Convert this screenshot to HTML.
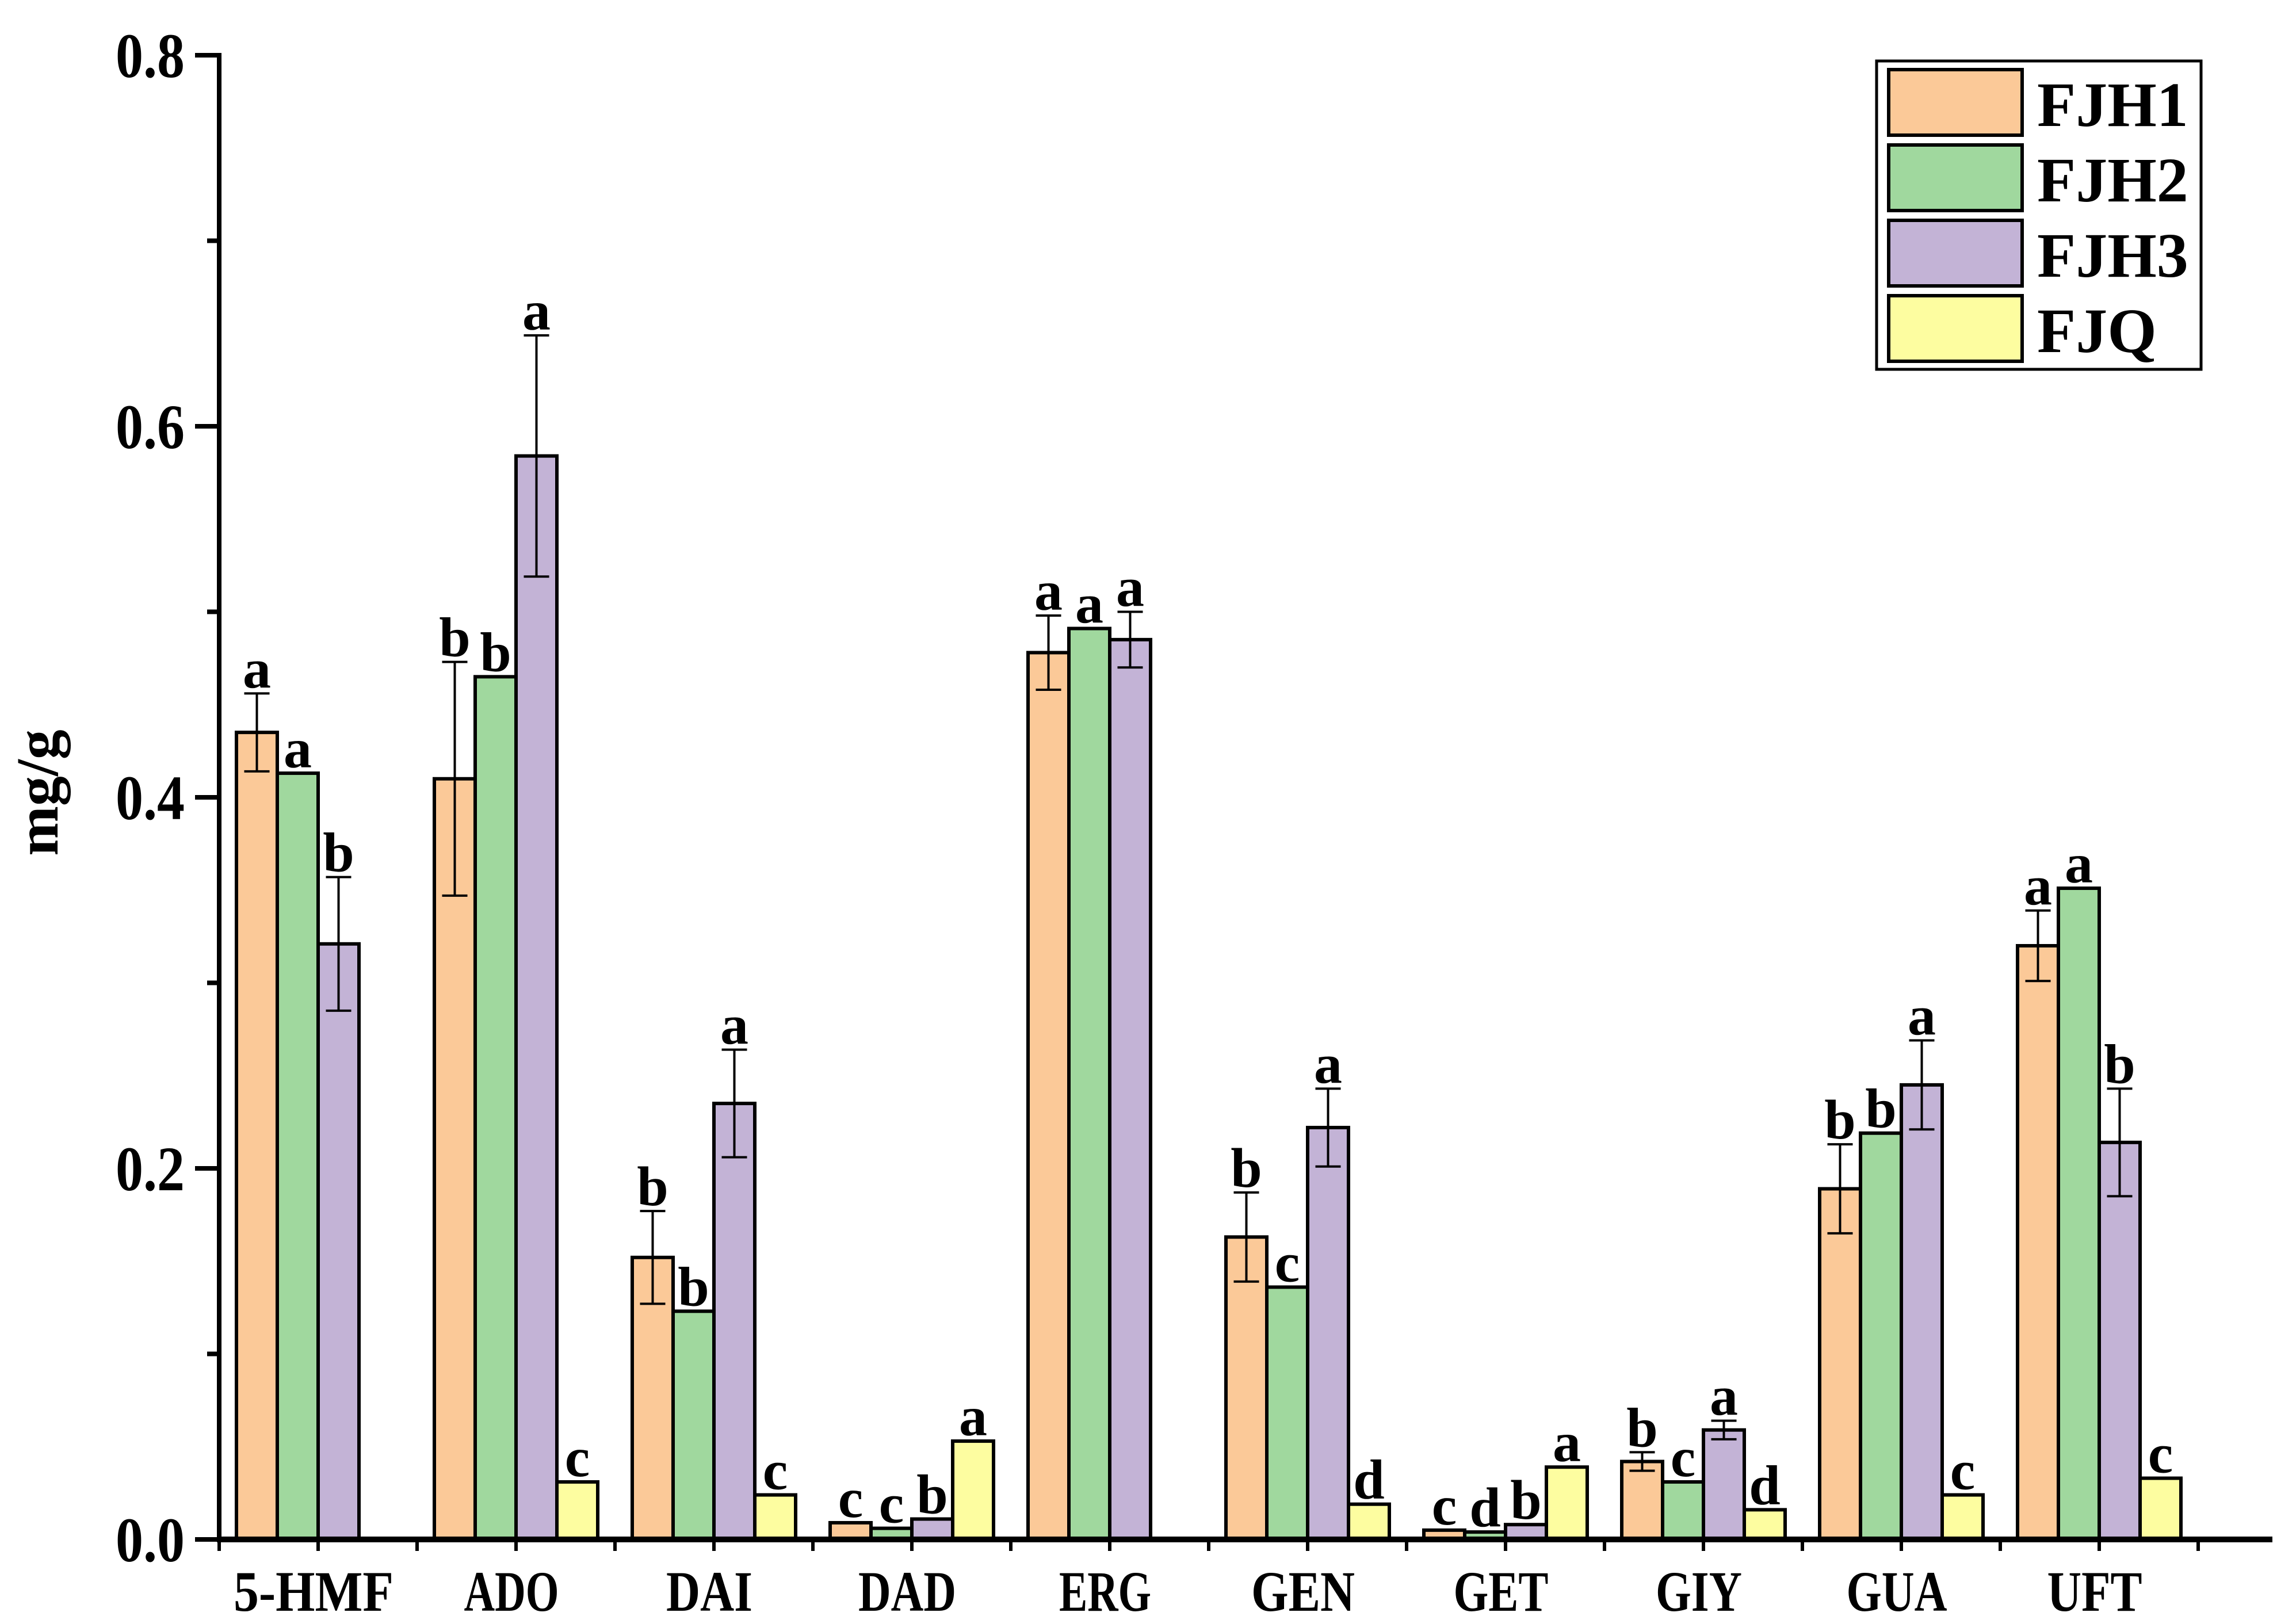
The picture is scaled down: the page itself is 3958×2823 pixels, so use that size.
<!DOCTYPE html>
<html><head><meta charset="utf-8"><style>
html,body{margin:0;padding:0;background:#fff}
svg{display:block}
text{font-family:"Liberation Serif",serif;font-weight:bold;fill:#000}
</style></head><body>
<svg id="chart" width="3958" height="2823" viewBox="0 0 3958 2823" xmlns="http://www.w3.org/2000/svg">
<g id="plot"></g>
</svg>
<script>
const categories = ["5-HMF","ADO","DAI","DAD","ERG","GEN","GET","GIY","GUA","UFT"];
const seriesNames = ["FJH1","FJH2","FJH3","FJQ"];
const fjh1 = [0.435,0.410,0.152,0.009,0.478,0.163,0.005,0.042,0.189,0.320];
const fjh2 = [0.413,0.465,0.123,0.006,0.491,0.136,0.004,0.031,0.219,0.351];
const fjh3 = [0.321,0.584,0.235,0.011,0.485,0.222,0.008,0.059,0.245,0.214];
const fjq  = [0,0.031,0.024,0.053,0,0.019,0.039,0.016,0.024,0.033];
const err1 = [0.021,0.063,0.025,0,0.020,0.024,0,0.005,0.024,0.019];
const err2 = [0,0,0,0,0,0,0,0,0,0];
const err3 = [0.036,0.065,0.029,0,0.015,0.021,0,0.005,0.024,0.029];
const err4 = [0,0,0,0,0,0,0,0,0,0];
const let1 = ["a","b","b","c","a","b","c","b","b","a"];
const let2 = ["a","b","b","c","a","c","d","c","b","a"];
const let3 = ["b","a","a","b","a","a","b","a","a","b"];
const let4 = ["","c","c","a","","d","a","d","c","c"];
const yTicks = ["0.0","0.2","0.4","0.6","0.8"];
const yTickVals = [0,0.2,0.4,0.6,0.8];

const NS="http://www.w3.org/2000/svg";
const g=document.getElementById('plot');
const x0=381, x1=3950, yBase=2676, yTop=96, ymax=0.8;
const catW=344, barW=71;
const colors=["#FBC998","#A0D89E","#C3B3D6","#FDFDA0"];
const vals=[fjh1,fjh2,fjh3,fjq], errs=[err1,err2,err3,err4], lets=[let1,let2,let3,let4];
function y(v){return yBase-(v/ymax)*(yBase-yTop);}
function xc(i){return x0+catW/2+catW*i;}
function mk(t,a){const e=document.createElementNS(NS,t);for(const k in a)e.setAttribute(k,a[k]);g.appendChild(e);return e;}

for(let s=0;s<4;s++){
  for(let i=0;i<categories.length;i++){
    const v=vals[s][i]; const bx=xc(i)-2*barW+s*barW;
    if(v>0){
      const r=mk('rect',{x:bx,y:y(v),width:barW,height:yBase-y(v),fill:colors[s],stroke:'#000','stroke-width':6});
      
      
    }
    const e=errs[s][i]; const cx=bx+barW/2;
    if(e>0){
      const eg=mk('path',{d:`M${cx},${y(v+e)}V${y(v-e)}M${cx-22},${y(v+e)}H${cx+22}M${cx-22},${y(v-e)}H${cx+22}`,stroke:'#000','stroke-width':4,fill:'none'});
      
      
    }
    const l=lets[s][i];
    if(l){
      const t=mk('text',{x:cx,y:y(v+e)-10,'text-anchor':'middle','font-size':98});
      t.textContent=l;
      
      
    }
  }
}
// axes
const ya=mk('line',{x1:x0,y1:yTop-4,x2:x0,y2:yBase+5,stroke:'#000','stroke-width':8});


const xa=mk('line',{x1:x0-4,y1:yBase,x2:x1,y2:yBase,stroke:'#000','stroke-width':10});


for(let k=0;k<yTickVals.length;k++){
  const ty=y(yTickVals[k]);
  const tk=mk('line',{x1:x0-42,y1:ty,x2:x0,y2:ty,stroke:'#000','stroke-width':8});
  
  
  const t=mk('text',{x:x0-60,y:ty+38,'text-anchor':'end','font-size':110,textLength:120,lengthAdjust:'spacingAndGlyphs'});
  t.textContent=yTicks[k];
  
  
  if(k<yTickVals.length-1){
    const my=y(yTickVals[k]+0.1);
    const mt=mk('line',{x1:x0-21,y1:my,x2:x0,y2:my,stroke:'#000','stroke-width':8});
    
    
  }
}
for(let i=0;i<=categories.length*2;i++){
  const tx=x0+i*catW/2;
  if(tx>x1)break;
  const tk=mk('line',{x1:tx,y1:yBase,x2:tx,y2:yBase+20,stroke:'#000','stroke-width':6});
  
  
}
const xw=[278,165,150,170,160,180,165,150,175,165];
for(let i=0;i<categories.length;i++){
  const t=mk('text',{x:xc(i)-8,y:yBase+124,'text-anchor':'middle','font-size':100,textLength:xw[i]*1,lengthAdjust:'spacingAndGlyphs'});
  t.textContent=categories[i];
  
  
}
const yl=mk('text',{x:0,y:0,'text-anchor':'middle','font-size':104,transform:'translate(100,1378) rotate(-90)'});
yl.textContent='mg/g';


// legend
const lb=mk('rect',{x:3262,y:106,width:564,height:536,fill:'#fff',stroke:'#000','stroke-width':5});


for(let s=0;s<4;s++){
  const ry=121+s*131;
  const sw=mk('rect',{x:3283,y:ry,width:232,height:114,fill:colors[s],stroke:'#000','stroke-width':6});
  
  
  const t=mk('text',{x:3541,y:ry+98,'font-size':110});
  t.textContent=seriesNames[s];
  
  
}
</script>
</body></html>
